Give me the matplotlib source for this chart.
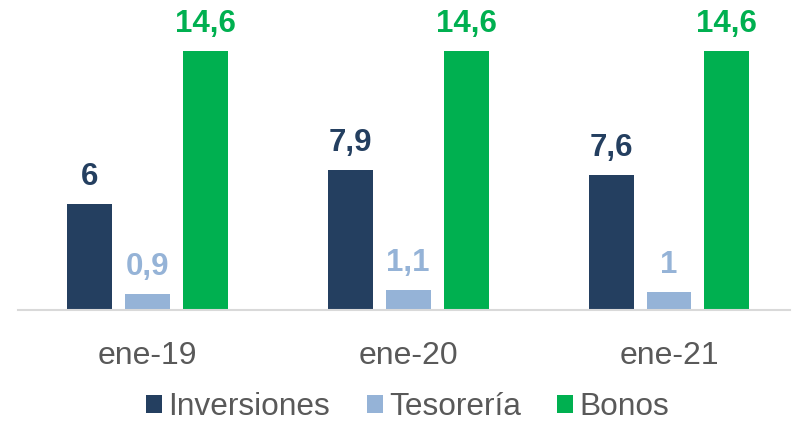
import matplotlib.pyplot as plt
import numpy as np

plt.rcParams['font.family'] = ['Liberation Sans', 'DejaVu Sans']

categories = ['ene-19', 'ene-20', 'ene-21']
inversiones = [6, 7.9, 7.6]
tesoreria = [0.9, 1.1, 1.0]
bonos = [14.6, 14.6, 14.6]

series = [('Inversiones', inversiones, '#243F60'),
          ('Tesorería', tesoreria, '#95B3D7'),
          ('Bonos', bonos, '#00B050')]

fig = plt.figure(figsize=(7.98, 4.24), dpi=100)
ax = fig.add_axes([18 / 798, 114 / 424, 772 / 798, 300 / 424])

x = np.arange(len(categories))
width = 0.172
offsets = [-0.222, 0, 0.222]

for (name, vals, color), off in zip(series, offsets):
    bars = ax.bar(x + off, vals, width, color=color, label=name)
    for b, v in zip(bars, vals):
        txt = f'{v:g}'.replace('.', ',')
        ax.annotate(txt, (b.get_x() + b.get_width() / 2, v),
                    xytext=(0, 12), textcoords='offset pixels',
                    ha='center', va='bottom', fontsize=22.5,
                    fontweight='bold', color=color)

ax.set_xlim(-0.496, 2.464)
ax.set_ylim(0, 300 / 17.74)
ax.set_xticks(x)
ax.set_xticklabels(categories, fontsize=23, color='#595959')
ax.tick_params(axis='x', length=0, pad=22)
ax.set_yticks([])
for s in ['top', 'right', 'left']:
    ax.spines[s].set_visible(False)
ax.spines['bottom'].set_color('#D9D9D9')
ax.spines['bottom'].set_linewidth(1.5)

fig.legend(loc='center', bbox_to_anchor=(0.511, 1 - 407 / 424), ncol=3,
           frameon=False, fontsize=22.8, handlelength=0.5, handleheight=0.5,
           handletextpad=0.2, columnspacing=1.15, labelcolor='#595959',
           borderpad=0.1)

fig.savefig('out.png', dpi=100)
